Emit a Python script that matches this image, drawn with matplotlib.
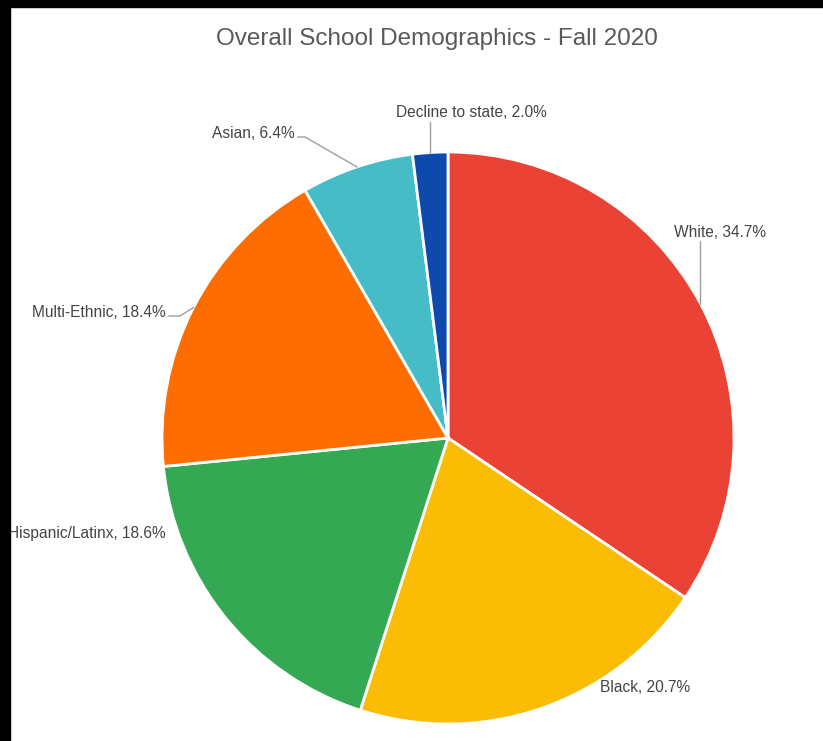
import numpy as np
import matplotlib
matplotlib.use("Agg")
import matplotlib.pyplot as plt
from matplotlib.patches import Rectangle

plt.rcParams['font.family'] = ['Liberation Sans', 'DejaVu Sans']

# data
groups = ["White", "Black", "Hispanic/Latinx", "Multi-Ethnic", "Asian", "Decline to state"]
shares = [34.7, 20.7, 18.6, 18.4, 6.4, 2.0]
colors = ["#EA4335", "#FBBC04", "#34A853", "#FF6D01", "#46BDC6", "#0E4AAC"]
title = "Overall School Demographics - Fall 2020"

# figure geometry in pixels (picture is 823x741, pie center / radius)
W, H = 823, 741
CX, CY, R = 448, 438, 286


def px(x, y):
    # pixel (from top-left) -> data coords with pie radius 1
    return (x - CX) / R, (CY - y) / R


fig = plt.figure(figsize=(W / 100, H / 100), dpi=100)
ax = fig.add_axes([0, 0, 1, 1])
wedges, _ = ax.pie(shares, colors=colors, startangle=90, counterclock=False,
                   radius=1, center=(0, 0),
                   wedgeprops=dict(edgecolor="white", linewidth=2))
ax.set_aspect('auto')
ax.set_xlim(-CX / R, (W - CX) / R)
ax.set_ylim(-(H - CY) / R, CY / R)
ax.axis('off')

# label placement: (x, baseline y) in pixels, alignment, leader bend point
label_pos = {
    "White": ((674, 237), "left", "vertical"),
    "Black": ((600, 692), "left", None),
    "Hispanic/Latinx": ((166, 538), "right", None),
    "Multi-Ethnic": ((166, 317), "right", (180, 316)),
    "Asian": ((295, 138), "right", (305, 137)),
    "Decline to state": ((471, 117), "center", "vertical"),
}
lead_start = {
    "White": 241,
    "Multi-Ethnic": (169, 316),
    "Asian": (298, 137),
    "Decline to state": 122,
}

for w, name, val in zip(wedges, groups, shares):
    (lx, ly), ha, lead = label_pos[name]
    tx, ty = px(lx, ly)
    ax.text(tx, ty, f"{name}, {val:.1f}%", ha=ha, va="baseline",
            fontsize=11.2, color="#444444")
    mid = np.deg2rad((w.theta1 + w.theta2) / 2)
    ex, ey = np.cos(mid), np.sin(mid)
    if lead == "vertical":
        _, sy = px(0, lead_start[name])
        ax.plot([ex, ex], [sy, ey], color="#9E9E9E", lw=1)
    elif lead is not None:
        sx, sy = px(*lead_start[name])
        bx, by = px(*lead)
        ax.plot([sx, bx, ex], [sy, by, ey], color="#9E9E9E", lw=1)

tx, ty = px(437, 45)
ax.text(tx, ty, title, ha="center", va="baseline", fontsize=17.5, color="#595959")

# black screenshot edges
fig.add_artist(Rectangle((0, 0), 10 / W, 1, transform=fig.transFigure,
                         color="black", zorder=10))
fig.add_artist(Rectangle((0, 1 - 7 / H), 1, 7 / H, transform=fig.transFigure,
                         color="black", zorder=10))

fig.savefig("out.png", dpi=100, facecolor="white")
